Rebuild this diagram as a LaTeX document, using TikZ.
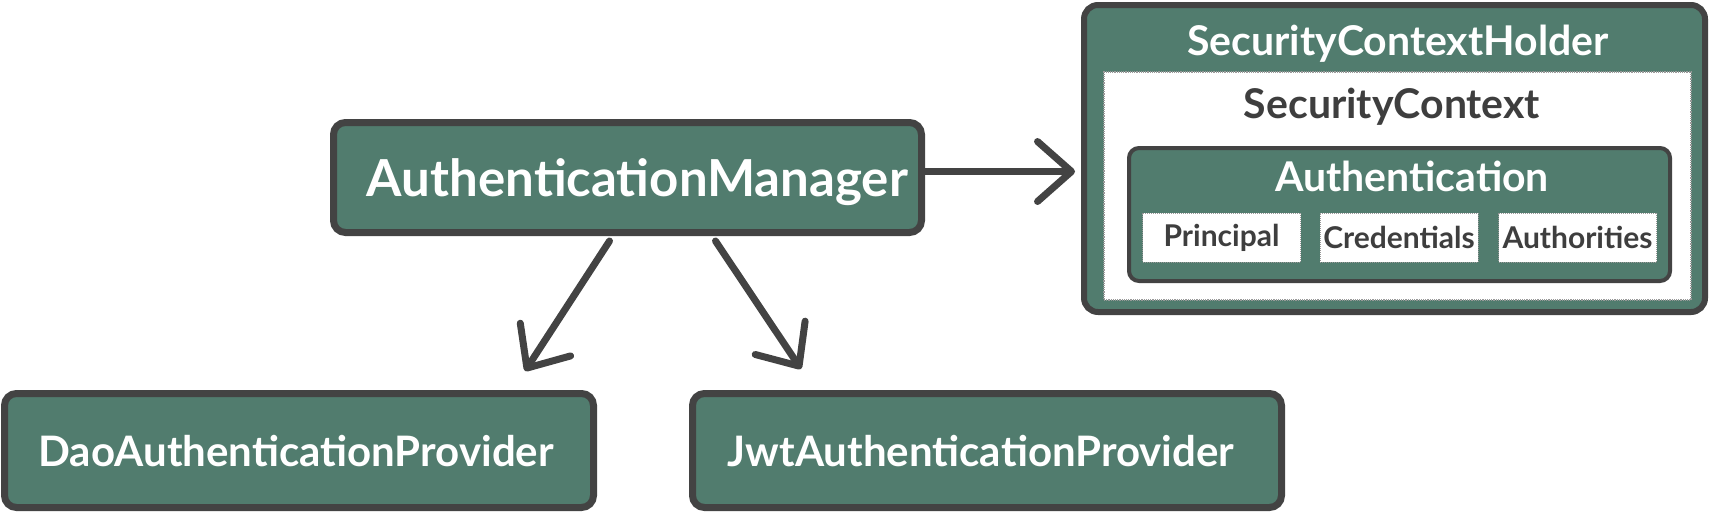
\documentclass[tikz,border=0pt]{standalone}
\usepackage{fontspec}
\setmainfont{Lato}
\usetikzlibrary{arrows.meta,positioning}
\definecolor{boxgreen}{RGB}{81,124,110}
\definecolor{edgegray}{RGB}{67,67,67}
\definecolor{inktext}{RGB}{62,62,62}

\begin{document}
\begin{tikzpicture}[
    x=1pt, y=-1pt,
    greenbox/.style={rectangle, rounded corners=12pt, draw=edgegray, line width=7pt, fill=boxgreen,
                     text=white, inner sep=0pt, text depth=0pt, font=\fontsize{42}{48}\selectfont\bfseries},
    holderbox/.style={rectangle, rounded corners=14pt, draw=edgegray, line width=6pt, fill=boxgreen, inner sep=0pt},
    ctxbox/.style={rectangle, draw=gray!80, densely dotted, line width=1.2pt, fill=white, inner sep=0pt},
    authbox/.style={rectangle, rounded corners=10pt, draw=edgegray, line width=4pt, fill=boxgreen, inner sep=0pt},
    partbox/.style={rectangle, draw=gray!80, densely dotted, line width=1pt, fill=white, inner sep=0pt,
                    minimum width=158pt, minimum height=49pt, text=inktext, font=\fontsize{30}{34}\selectfont\bfseries},
    whitetitle/.style={text=white, inner sep=0pt, font=\fontsize{41}{47}\selectfont\bfseries},
    darktitle/.style={text=inktext, inner sep=0pt, font=\fontsize{41}{47}\selectfont\bfseries},
    arr/.style={-{Straight Barb[length=34pt,width=60pt,round]}, line width=7pt, edgegray, line cap=round}
]
\useasboundingbox (0,0) rectangle (1712,512);

\node[greenbox, minimum width=588pt, minimum height=110pt, font=\fontsize{51}{58}\selectfont\bfseries] (am) at (627.5,177.5) {\hspace*{20pt}AuthenticationManager};
\node[greenbox, minimum width=589pt, minimum height=114pt] (dao) at (299,450.5) {DaoAuthenticationProvider\hspace*{6pt}};
\node[greenbox, minimum width=589pt, minimum height=114pt] (jwt) at (987,450.5) {JwtAuthenticationProvider\hspace*{12pt}};

% holder with nested context
\node[holderbox, minimum width=621pt, minimum height=307pt] (holder) at (1394.5,158.5) {};
\node[whitetitle, anchor=base] (holdertitle) at (1398,55) {SecurityContextHolder};
\node[ctxbox, minimum width=587pt, minimum height=228pt] (ctx) at (1397.5,186) {};
\node[darktitle, anchor=base] (ctxtitle) at (1392,118) {SecurityContext};
\node[authbox, minimum width=541pt, minimum height=133pt] (auth) at (1399.5,214.5) {};
\node[whitetitle, anchor=base] (authtitle) at (1412,191) {Authentication};
\node[partbox] (principal) at (1221.5,237.5) {Principal};
\node[partbox] (creds) at (1399,237.5) {Credentials};
\node[partbox] (authorities) at (1577.5,237.5) {Authorities};

\path (am.east -| holder.west) ++(-6,-6) coordinate (holderin);
\path (dao.north east) ++(-72,-19) coordinate (daoin);
\path (jwt.north west) ++(112,-21) coordinate (jwtin);

\draw[arr] ([yshift=6pt]am.east) -- (holderin);
\draw[arr] ([xshift=-18pt,yshift=-5pt]am.south) -- (daoin);
\draw[arr] ([xshift=88pt,yshift=-5pt]am.south) -- (jwtin);
\end{tikzpicture}
\end{document}
